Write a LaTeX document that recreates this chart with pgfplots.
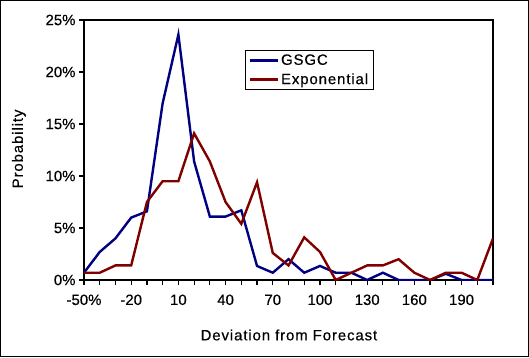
\documentclass[border=0pt]{standalone}
\usepackage{fontspec}
\setmainfont{Liberation Sans}
\newfontfamily\lblfont{Liberation Sans}[LetterSpace=6,FakeBold=0.4]
\newfontfamily\tickfont{Liberation Sans}[FakeBold=0.4]
\usepackage{pgfplots}
\pgfplotsset{compat=1.18}
\definecolor{gsgc}{RGB}{0,0,128}
\definecolor{expo}{RGB}{128,0,0}
\begin{document}
\begin{tikzpicture}[x=1bp,y=1bp]
\useasboundingbox (0,0) rectangle (529,357);
\draw[line width=1.2bp] (0.6,0.6) rectangle (528.4,356.4);
\begin{axis}[
  at={(84bp,77bp)}, anchor=south west,
  scale only axis, width=409bp, height=260bp,
  xmin=0, xmax=26, ymin=0, ymax=25,
  axis line style={line width=1.6bp},
  xtick={0,...,26},
  xticklabels={-50\%,,,-20,,,10,,,40,,,70,,,100,,,130,,,160,,,190,,},
  ytick={0,5,10,15,20,25},
  yticklabels={0\%,5\%,10\%,15\%,20\%,25\%},
  tick align=outside, xtick pos=bottom, ytick pos=left,
  major tick length=5bp,
  every tick/.style={black, line width=1.2bp},
  tick label style={font=\tickfont\fontsize{15}{18}\selectfont},
  xticklabel style={yshift=-6bp},
  every axis x label/.style={at={(axis description cs:0.501,-0.2115)}, anchor=center,
    font=\lblfont\fontsize{15}{18}\selectfont},
  every axis y label/.style={at={(axis description cs:-0.159,0.504)}, anchor=center, rotate=90,
    font=\lblfont\fontsize{15}{18}\selectfont},
  xlabel={Deviation from Forecast},
  ylabel={Probability},
  legend cell align=left,
  legend image code/.code={\draw[#1] (0bp,0bp) -- (28bp,0bp);},
  legend style={at={(axis description cs:0.394,0.885)}, anchor=north west,
    draw=black, line width=1bp, font=\lblfont\fontsize{15}{18}\selectfont,
    inner xsep=3bp, inner ysep=2bp, row sep=3bp,
    nodes={inner xsep=2bp}},
]
\addplot[gsgc, line width=2.4bp] coordinates {
(0,0.7)(1,2.7)(2,4.0)(3,6.0)(4,6.6)(5,17.0)(6,23.6)(7,11.4)(8,6.1)(9,6.1)
(10,6.7)(11,1.35)(12,0.7)(13,2.0)(14,0.7)(15,1.35)(16,0.7)(17,0.7)(18,0)
(19,0.7)(20,0)(21,0)(22,0)(23,0.6)(24,0)(25,0)(26,0)};
\addlegendentry{GSGC}
\addplot[expo, line width=2.4bp] coordinates {
(0,0.7)(1,0.7)(2,1.4)(3,1.4)(4,7.5)(5,9.5)(6,9.5)(7,14.1)(8,11.4)(9,7.5)
(10,5.4)(11,9.4)(12,2.6)(13,1.4)(14,4.1)(15,2.7)(16,0)(17,0.7)(18,1.4)
(19,1.4)(20,2.0)(21,0.7)(22,0)(23,0.7)(24,0.7)(25,0)(26,4.0)};
\addlegendentry{Exponential}
\end{axis}
\end{tikzpicture}
\end{document}
